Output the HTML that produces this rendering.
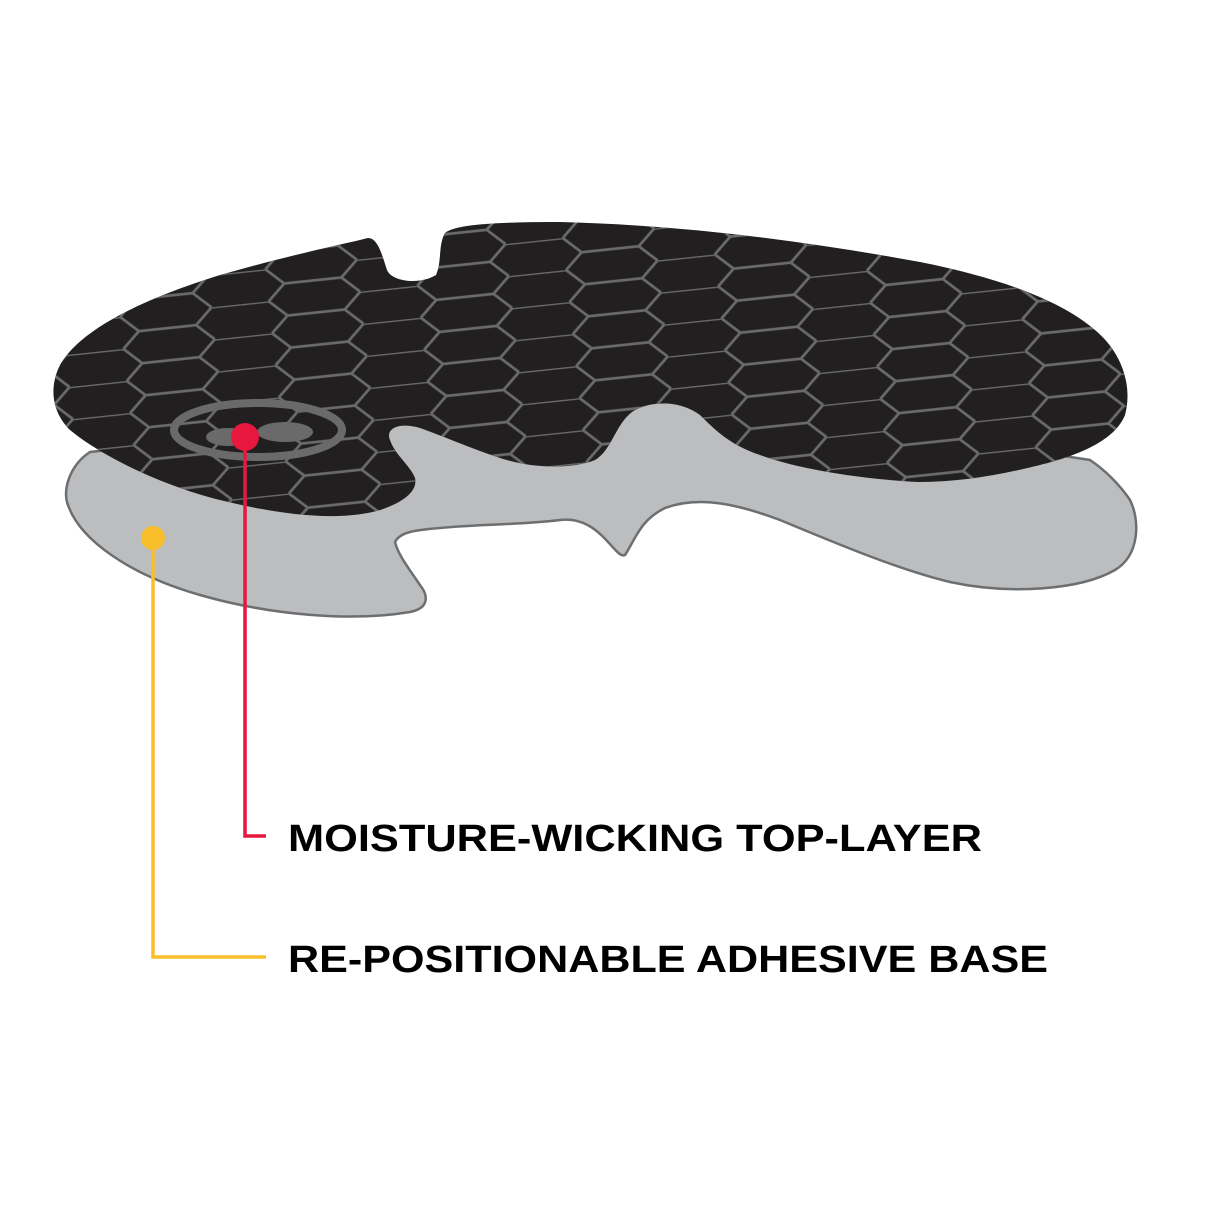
<!DOCTYPE html>
<html><head><meta charset="utf-8"><style>
html,body{margin:0;padding:0;background:#fff;}
svg{display:block;}
</style></head><body>
<svg width="1214" height="1214" viewBox="0 0 1214 1214" xmlns="http://www.w3.org/2000/svg">
<defs>
<pattern id="hex" width="130" height="28" patternUnits="userSpaceOnUse" patternTransform="rotate(-6) scale(1.15) translate(10,5)">
<path d="M15,0 H65 L80,14 L65,28 M80,14 H130 M0,14 L15,0 M0,14 L15,28 M130,14 L145,0 M130,14 L145,28 M-50,14 H0 M65,0 L80,-14 M65,28 L80,42" fill="none" stroke="#6a6a6a" stroke-width="2.4"/>
</pattern>
</defs>
<path d="M90,452 C70,465 62,490 68,505 C80,540 130,575 200,595 C270,615 350,622 410,612 C430,608 428,595 420,585 C410,570 398,555 395,542 C400,532 415,530 440,528 C480,524 520,525 560,520 C600,515 615,560 625,555 C635,540 640,520 665,508 C700,495 740,505 780,520 C840,545 900,570 950,582 C1010,595 1080,590 1115,570 C1140,555 1140,520 1130,500 C1120,485 1105,470 1090,460 L700,400 L380,420 Z" fill="#bcbdbf" stroke="#6d6e70" stroke-width="2.5"/>
<path id="top" d="M60,365 C80,330 140,300 220,275 C290,255 340,245 368,238 C378,238 382,255 387,270 C392,282 420,285 436,275 C442,262 438,245 445,233 C455,224 500,222 560,222 C680,225 800,240 920,262 C1000,278 1060,300 1095,330 C1125,355 1132,390 1125,415 C1115,440 1080,455 1040,465 C1000,475 960,482 920,482 C870,480 800,470 760,455 C730,445 715,430 700,415 C680,400 650,400 632,412 C615,425 612,450 595,460 C570,470 530,468 500,458 C470,448 440,435 420,428 C400,422 385,428 390,440 C395,455 410,465 415,478 C418,490 405,502 380,510 C340,522 280,515 220,500 C160,485 100,455 70,430 C50,410 50,385 60,365 Z" fill="#221f20"/>
<clipPath id="cp"><use href="#top"/></clipPath>
<g clip-path="url(#cp)">
<rect x="0" y="180" width="1214" height="350" fill="url(#hex)"/>
<ellipse cx="258" cy="430" rx="84" ry="27" fill="#221f20" fill-opacity="0" stroke="#6a6a6a" stroke-width="8"/>
<ellipse cx="228" cy="437" rx="22" ry="9" fill="#6a6a6a"/>
<ellipse cx="285" cy="432" rx="28" ry="10" fill="#6a6a6a"/>
</g>
<circle cx="245" cy="437" r="14" fill="#e8173f"/>
<polyline points="245,437 245,836 266,836" fill="none" stroke="#e8173f" stroke-width="3.5"/>
<circle cx="153" cy="538" r="12" fill="#f9bf2b"/>
<polyline points="153,538 153,957 266,957" fill="none" stroke="#f9bf2b" stroke-width="3.5"/>
<text x="288" y="851" font-family="Liberation Sans, sans-serif" font-weight="bold" font-size="38" fill="#000" textLength="694" lengthAdjust="spacingAndGlyphs">MOISTURE-WICKING TOP-LAYER</text>
<text x="288" y="972" font-family="Liberation Sans, sans-serif" font-weight="bold" font-size="38" fill="#000" textLength="760" lengthAdjust="spacingAndGlyphs">RE-POSITIONABLE ADHESIVE BASE</text>
</svg>
</body></html>
